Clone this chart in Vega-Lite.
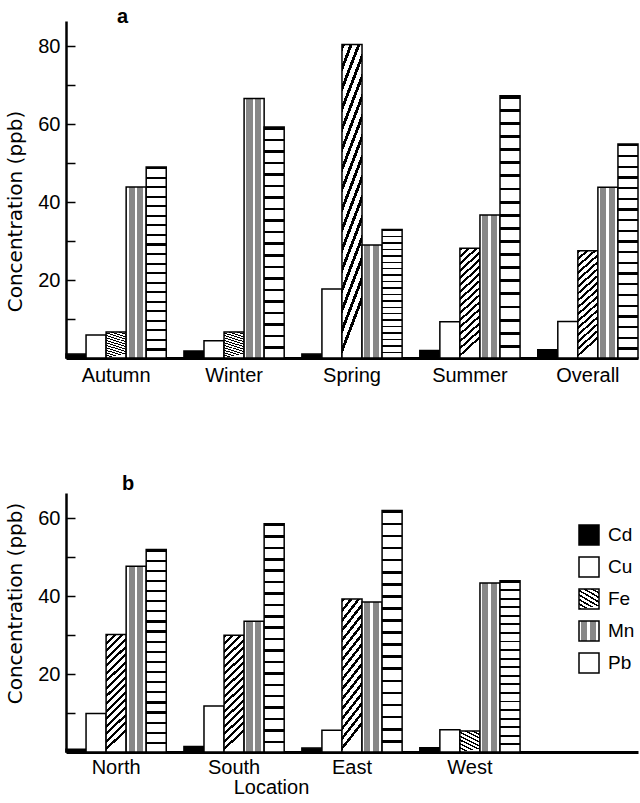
{
  "$schema": "https://vega.github.io/schema/vega-lite/v6.json",
  "padding": {"left": 5, "top": 7, "right": 0, "bottom": 0},
  "background": "white",
  "spacing": 89,
  "resolve": {"scale": {"fill": "independent"}, "legend": {"fill": "independent"}},
  "config": {
    "font": "Liberation Sans",
    "view": {"stroke": null},
    "axis": {"domainColor": "black", "tickColor": "black", "labelColor": "black", "titleColor": "black", "grid": false, "labelFontSize": 20, "titleFontSize": 20, "titleFontWeight": "normal", "labelFont": "Liberation Sans"},
    "title": {"color": "black"}
  },
  "datasets": {
    "seasons": [
      {"group": "Autumn", "metal": "Cd", "value": 1.0},
      {"group": "Autumn", "metal": "Cu", "value": 5.9},
      {"group": "Autumn", "metal": "Fe", "value": 6.7},
      {"group": "Autumn", "metal": "Mn", "value": 43.9},
      {"group": "Autumn", "metal": "Pb", "value": 49.0},
      {"group": "Winter", "metal": "Cd", "value": 1.8},
      {"group": "Winter", "metal": "Cu", "value": 4.4},
      {"group": "Winter", "metal": "Fe", "value": 6.7},
      {"group": "Winter", "metal": "Mn", "value": 66.6},
      {"group": "Winter", "metal": "Pb", "value": 59.3},
      {"group": "Spring", "metal": "Cd", "value": 1.0},
      {"group": "Spring", "metal": "Cu", "value": 17.7},
      {"group": "Spring", "metal": "Fe", "value": 80.5},
      {"group": "Spring", "metal": "Mn", "value": 29.0},
      {"group": "Spring", "metal": "Pb", "value": 33.0},
      {"group": "Summer", "metal": "Cd", "value": 1.9},
      {"group": "Summer", "metal": "Cu", "value": 9.3},
      {"group": "Summer", "metal": "Fe", "value": 28.2},
      {"group": "Summer", "metal": "Mn", "value": 36.7},
      {"group": "Summer", "metal": "Pb", "value": 67.3},
      {"group": "Overall", "metal": "Cd", "value": 2.1},
      {"group": "Overall", "metal": "Cu", "value": 9.4},
      {"group": "Overall", "metal": "Fe", "value": 27.5},
      {"group": "Overall", "metal": "Mn", "value": 43.8},
      {"group": "Overall", "metal": "Pb", "value": 54.9}
    ],
    "locations": [
      {"group": "North", "metal": "Cd", "value": 0.7},
      {"group": "North", "metal": "Cu", "value": 9.9},
      {"group": "North", "metal": "Fe", "value": 30.2},
      {"group": "North", "metal": "Mn", "value": 47.7},
      {"group": "North", "metal": "Pb", "value": 52.0},
      {"group": "South", "metal": "Cd", "value": 1.4},
      {"group": "South", "metal": "Cu", "value": 11.8},
      {"group": "South", "metal": "Fe", "value": 30.0},
      {"group": "South", "metal": "Mn", "value": 33.6},
      {"group": "South", "metal": "Pb", "value": 58.6},
      {"group": "East", "metal": "Cd", "value": 1.0},
      {"group": "East", "metal": "Cu", "value": 5.6},
      {"group": "East", "metal": "Fe", "value": 39.3},
      {"group": "East", "metal": "Mn", "value": 38.5},
      {"group": "East", "metal": "Pb", "value": 62.0},
      {"group": "West", "metal": "Cd", "value": 1.1},
      {"group": "West", "metal": "Cu", "value": 5.7},
      {"group": "West", "metal": "Fe", "value": 5.4},
      {"group": "West", "metal": "Mn", "value": 43.4},
      {"group": "West", "metal": "Pb", "value": 44.0}
    ]
  },
  "vconcat": [
    {
      "data": {"name": "seasons"},
      "width": 572,
      "height": 337,
      "title": {"text": "a", "anchor": "start", "frame": "group", "dx": 51, "offset": -22, "baseline": "alphabetic", "fontSize": 20, "fontWeight": "bold", "font": "Liberation Sans"},
      "mark": {"type": "bar", "stroke": "black", "strokeWidth": 1.5},
      "encoding": {
        "x": {"field": "group", "type": "nominal", "sort": null,
          "scale": {"domain": ["Autumn", "Winter", "Spring", "Summer", "Overall"], "paddingInner": 0.15, "paddingOuter": 0},
          "axis": {"title": null, "ticks": false, "domainWidth": 3, "labelAngle": 0, "labelPadding": 7}},
        "xOffset": {"field": "metal", "type": "nominal", "scale": {"domain": ["Cd", "Cu", "Fe", "Mn", "Pb"], "paddingInner": 0, "paddingOuter": 0}},
        "y": {"field": "value", "type": "quantitative",
          "scale": {"domain": [0, 86.5], "nice": false},
          "axis": {"title": "Concentration (ppb)", "titleFont": "DejaVu Sans", "titlePadding": 12, "titleY": 190, "values": [10, 20, 30, 40, 50, 60, 70, 80], "labelExpr": "datum.value % 20 === 0 ? datum.label : ''", "tickSize": -9, "tickWidth": 1.5, "domainWidth": 2.5, "labelPadding": 15}},
        "fill": {"field": "metal", "type": "nominal", "legend": null,
          "scale": {"domain": ["Cd", "Cu", "Fe", "Mn", "Pb"], "range": [
            "black",
            "white",
            {"expr": "{gradient:'linear',x1:0,y1:0,x2:0.167,y2:1,stops:[{offset:0,color:'#000'},{offset:0.025,color:'#000'},{offset:0.025,color:'#fff'},{offset:0.0625,color:'#fff'},{offset:0.0625,color:'#000'},{offset:0.0875,color:'#000'},{offset:0.0875,color:'#fff'},{offset:0.125,color:'#fff'},{offset:0.125,color:'#000'},{offset:0.15,color:'#000'},{offset:0.15,color:'#fff'},{offset:0.1875,color:'#fff'},{offset:0.1875,color:'#000'},{offset:0.2125,color:'#000'},{offset:0.2125,color:'#fff'},{offset:0.25,color:'#fff'},{offset:0.25,color:'#000'},{offset:0.275,color:'#000'},{offset:0.275,color:'#fff'},{offset:0.3125,color:'#fff'},{offset:0.3125,color:'#000'},{offset:0.3375,color:'#000'},{offset:0.3375,color:'#fff'},{offset:0.375,color:'#fff'},{offset:0.375,color:'#000'},{offset:0.4,color:'#000'},{offset:0.4,color:'#fff'},{offset:0.4375,color:'#fff'},{offset:0.4375,color:'#000'},{offset:0.4625,color:'#000'},{offset:0.4625,color:'#fff'},{offset:0.5,color:'#fff'},{offset:0.5,color:'#000'},{offset:0.525,color:'#000'},{offset:0.525,color:'#fff'},{offset:0.5625,color:'#fff'},{offset:0.5625,color:'#000'},{offset:0.5875,color:'#000'},{offset:0.5875,color:'#fff'},{offset:0.625,color:'#fff'},{offset:0.625,color:'#000'},{offset:0.65,color:'#000'},{offset:0.65,color:'#fff'},{offset:0.6875,color:'#fff'},{offset:0.6875,color:'#000'},{offset:0.7125,color:'#000'},{offset:0.7125,color:'#fff'},{offset:0.75,color:'#fff'},{offset:0.75,color:'#000'},{offset:0.775,color:'#000'},{offset:0.775,color:'#fff'},{offset:0.8125,color:'#fff'},{offset:0.8125,color:'#000'},{offset:0.8375,color:'#000'},{offset:0.8375,color:'#fff'},{offset:0.875,color:'#fff'},{offset:0.875,color:'#000'},{offset:0.9,color:'#000'},{offset:0.9,color:'#fff'},{offset:0.9375,color:'#fff'},{offset:0.9375,color:'#000'},{offset:0.9625,color:'#000'},{offset:0.9625,color:'#fff'},{offset:1,color:'#fff'}]}"},
            {"expr": "{gradient:'linear',x1:0,y1:0,x2:1,y2:0,stops:[{offset:0,color:'#fff'},{offset:0.12,color:'#fff'},{offset:0.12,color:'#888'},{offset:0.42,color:'#888'},{offset:0.42,color:'#fff'},{offset:0.56,color:'#fff'},{offset:0.56,color:'#888'},{offset:0.86,color:'#888'},{offset:0.86,color:'#fff'},{offset:1,color:'#fff'}]}"},
            {"expr": "{gradient:'linear',x1:0,y1:0,x2:0,y2:1,stops:[{offset:0,color:'#000'},{offset:0.011,color:'#000'},{offset:0.011,color:'#fff'},{offset:0.05,color:'#fff'},{offset:0.05,color:'#000'},{offset:0.061,color:'#000'},{offset:0.061,color:'#fff'},{offset:0.1,color:'#fff'},{offset:0.1,color:'#000'},{offset:0.111,color:'#000'},{offset:0.111,color:'#fff'},{offset:0.15,color:'#fff'},{offset:0.15,color:'#000'},{offset:0.161,color:'#000'},{offset:0.161,color:'#fff'},{offset:0.2,color:'#fff'},{offset:0.2,color:'#000'},{offset:0.211,color:'#000'},{offset:0.211,color:'#fff'},{offset:0.25,color:'#fff'},{offset:0.25,color:'#000'},{offset:0.261,color:'#000'},{offset:0.261,color:'#fff'},{offset:0.3,color:'#fff'},{offset:0.3,color:'#000'},{offset:0.311,color:'#000'},{offset:0.311,color:'#fff'},{offset:0.35,color:'#fff'},{offset:0.35,color:'#000'},{offset:0.361,color:'#000'},{offset:0.361,color:'#fff'},{offset:0.4,color:'#fff'},{offset:0.4,color:'#000'},{offset:0.411,color:'#000'},{offset:0.411,color:'#fff'},{offset:0.45,color:'#fff'},{offset:0.45,color:'#000'},{offset:0.461,color:'#000'},{offset:0.461,color:'#fff'},{offset:0.5,color:'#fff'},{offset:0.5,color:'#000'},{offset:0.511,color:'#000'},{offset:0.511,color:'#fff'},{offset:0.55,color:'#fff'},{offset:0.55,color:'#000'},{offset:0.561,color:'#000'},{offset:0.561,color:'#fff'},{offset:0.6,color:'#fff'},{offset:0.6,color:'#000'},{offset:0.611,color:'#000'},{offset:0.611,color:'#fff'},{offset:0.65,color:'#fff'},{offset:0.65,color:'#000'},{offset:0.661,color:'#000'},{offset:0.661,color:'#fff'},{offset:0.7,color:'#fff'},{offset:0.7,color:'#000'},{offset:0.711,color:'#000'},{offset:0.711,color:'#fff'},{offset:0.75,color:'#fff'},{offset:0.75,color:'#000'},{offset:0.761,color:'#000'},{offset:0.761,color:'#fff'},{offset:0.8,color:'#fff'},{offset:0.8,color:'#000'},{offset:0.811,color:'#000'},{offset:0.811,color:'#fff'},{offset:0.85,color:'#fff'},{offset:0.85,color:'#000'},{offset:0.861,color:'#000'},{offset:0.861,color:'#fff'},{offset:0.9,color:'#fff'},{offset:0.9,color:'#000'},{offset:0.911,color:'#000'},{offset:0.911,color:'#fff'},{offset:0.95,color:'#fff'},{offset:0.95,color:'#000'},{offset:0.961,color:'#000'},{offset:0.961,color:'#fff'},{offset:1,color:'#fff'}]}"}
          ]}}
      }
    },
    {
      "data": {"name": "locations"},
      "width": 572,
      "height": 259,
      "title": {"text": "b", "anchor": "start", "frame": "group", "dx": 56, "offset": -17, "baseline": "alphabetic", "fontSize": 20, "fontWeight": "bold", "font": "Liberation Sans"},
      "mark": {"type": "bar", "stroke": "black", "strokeWidth": 1.5},
      "encoding": {
        "x": {"field": "group", "type": "nominal", "sort": null,
          "scale": {"domain": ["North", "South", "East", "West", "_"], "paddingInner": 0.15, "paddingOuter": 0},
          "axis": {"title": "Location", "titlePadding": 0, "titleX": 205, "ticks": false, "domainWidth": 3, "labelAngle": 0, "labelPadding": 5, "labelExpr": "datum.value === '_' ? '' : datum.label"}},
        "xOffset": {"field": "metal", "type": "nominal", "scale": {"domain": ["Cd", "Cu", "Fe", "Mn", "Pb"], "paddingInner": 0, "paddingOuter": 0}},
        "y": {"field": "value", "type": "quantitative",
          "scale": {"domain": [0, 66.5], "nice": false},
          "axis": {"title": "Concentration (ppb)", "titleFont": "DejaVu Sans", "titlePadding": 12, "titleY": 110, "values": [10, 20, 30, 40, 50, 60], "labelExpr": "datum.value % 20 === 0 ? datum.label : ''", "tickSize": -9, "tickWidth": 1.5, "domainWidth": 2.5, "labelPadding": 15}},
        "fill": {"field": "metal", "type": "nominal",
          "legend": {"orient": "none", "legendX": 512, "legendY": 31, "title": null, "symbolType": "square", "symbolSize": 400, "symbolStrokeColor": "black", "symbolStrokeWidth": 1.5, "labelFontSize": 19, "labelColor": "black", "rowPadding": 6, "labelOffset": 8, "padding": 0},
          "scale": {"domain": ["Cd", "Cu", "Fe", "Mn", "Pb"], "range": [
            "black",
            "white",
            {"expr": "{gradient:'linear',x1:0,y1:0,x2:0.167,y2:1,stops:[{offset:0,color:'#000'},{offset:0.025,color:'#000'},{offset:0.025,color:'#fff'},{offset:0.0625,color:'#fff'},{offset:0.0625,color:'#000'},{offset:0.0875,color:'#000'},{offset:0.0875,color:'#fff'},{offset:0.125,color:'#fff'},{offset:0.125,color:'#000'},{offset:0.15,color:'#000'},{offset:0.15,color:'#fff'},{offset:0.1875,color:'#fff'},{offset:0.1875,color:'#000'},{offset:0.2125,color:'#000'},{offset:0.2125,color:'#fff'},{offset:0.25,color:'#fff'},{offset:0.25,color:'#000'},{offset:0.275,color:'#000'},{offset:0.275,color:'#fff'},{offset:0.3125,color:'#fff'},{offset:0.3125,color:'#000'},{offset:0.3375,color:'#000'},{offset:0.3375,color:'#fff'},{offset:0.375,color:'#fff'},{offset:0.375,color:'#000'},{offset:0.4,color:'#000'},{offset:0.4,color:'#fff'},{offset:0.4375,color:'#fff'},{offset:0.4375,color:'#000'},{offset:0.4625,color:'#000'},{offset:0.4625,color:'#fff'},{offset:0.5,color:'#fff'},{offset:0.5,color:'#000'},{offset:0.525,color:'#000'},{offset:0.525,color:'#fff'},{offset:0.5625,color:'#fff'},{offset:0.5625,color:'#000'},{offset:0.5875,color:'#000'},{offset:0.5875,color:'#fff'},{offset:0.625,color:'#fff'},{offset:0.625,color:'#000'},{offset:0.65,color:'#000'},{offset:0.65,color:'#fff'},{offset:0.6875,color:'#fff'},{offset:0.6875,color:'#000'},{offset:0.7125,color:'#000'},{offset:0.7125,color:'#fff'},{offset:0.75,color:'#fff'},{offset:0.75,color:'#000'},{offset:0.775,color:'#000'},{offset:0.775,color:'#fff'},{offset:0.8125,color:'#fff'},{offset:0.8125,color:'#000'},{offset:0.8375,color:'#000'},{offset:0.8375,color:'#fff'},{offset:0.875,color:'#fff'},{offset:0.875,color:'#000'},{offset:0.9,color:'#000'},{offset:0.9,color:'#fff'},{offset:0.9375,color:'#fff'},{offset:0.9375,color:'#000'},{offset:0.9625,color:'#000'},{offset:0.9625,color:'#fff'},{offset:1,color:'#fff'}]}"},
            {"expr": "{gradient:'linear',x1:0,y1:0,x2:1,y2:0,stops:[{offset:0,color:'#fff'},{offset:0.12,color:'#fff'},{offset:0.12,color:'#888'},{offset:0.42,color:'#888'},{offset:0.42,color:'#fff'},{offset:0.56,color:'#fff'},{offset:0.56,color:'#888'},{offset:0.86,color:'#888'},{offset:0.86,color:'#fff'},{offset:1,color:'#fff'}]}"},
            {"expr": "{gradient:'linear',x1:0,y1:0,x2:0,y2:1,stops:[{offset:0,color:'#000'},{offset:0.011,color:'#000'},{offset:0.011,color:'#fff'},{offset:0.05,color:'#fff'},{offset:0.05,color:'#000'},{offset:0.061,color:'#000'},{offset:0.061,color:'#fff'},{offset:0.1,color:'#fff'},{offset:0.1,color:'#000'},{offset:0.111,color:'#000'},{offset:0.111,color:'#fff'},{offset:0.15,color:'#fff'},{offset:0.15,color:'#000'},{offset:0.161,color:'#000'},{offset:0.161,color:'#fff'},{offset:0.2,color:'#fff'},{offset:0.2,color:'#000'},{offset:0.211,color:'#000'},{offset:0.211,color:'#fff'},{offset:0.25,color:'#fff'},{offset:0.25,color:'#000'},{offset:0.261,color:'#000'},{offset:0.261,color:'#fff'},{offset:0.3,color:'#fff'},{offset:0.3,color:'#000'},{offset:0.311,color:'#000'},{offset:0.311,color:'#fff'},{offset:0.35,color:'#fff'},{offset:0.35,color:'#000'},{offset:0.361,color:'#000'},{offset:0.361,color:'#fff'},{offset:0.4,color:'#fff'},{offset:0.4,color:'#000'},{offset:0.411,color:'#000'},{offset:0.411,color:'#fff'},{offset:0.45,color:'#fff'},{offset:0.45,color:'#000'},{offset:0.461,color:'#000'},{offset:0.461,color:'#fff'},{offset:0.5,color:'#fff'},{offset:0.5,color:'#000'},{offset:0.511,color:'#000'},{offset:0.511,color:'#fff'},{offset:0.55,color:'#fff'},{offset:0.55,color:'#000'},{offset:0.561,color:'#000'},{offset:0.561,color:'#fff'},{offset:0.6,color:'#fff'},{offset:0.6,color:'#000'},{offset:0.611,color:'#000'},{offset:0.611,color:'#fff'},{offset:0.65,color:'#fff'},{offset:0.65,color:'#000'},{offset:0.661,color:'#000'},{offset:0.661,color:'#fff'},{offset:0.7,color:'#fff'},{offset:0.7,color:'#000'},{offset:0.711,color:'#000'},{offset:0.711,color:'#fff'},{offset:0.75,color:'#fff'},{offset:0.75,color:'#000'},{offset:0.761,color:'#000'},{offset:0.761,color:'#fff'},{offset:0.8,color:'#fff'},{offset:0.8,color:'#000'},{offset:0.811,color:'#000'},{offset:0.811,color:'#fff'},{offset:0.85,color:'#fff'},{offset:0.85,color:'#000'},{offset:0.861,color:'#000'},{offset:0.861,color:'#fff'},{offset:0.9,color:'#fff'},{offset:0.9,color:'#000'},{offset:0.911,color:'#000'},{offset:0.911,color:'#fff'},{offset:0.95,color:'#fff'},{offset:0.95,color:'#000'},{offset:0.961,color:'#000'},{offset:0.961,color:'#fff'},{offset:1,color:'#fff'}]}"}
          ]}}
      }
    }
  ]
}
